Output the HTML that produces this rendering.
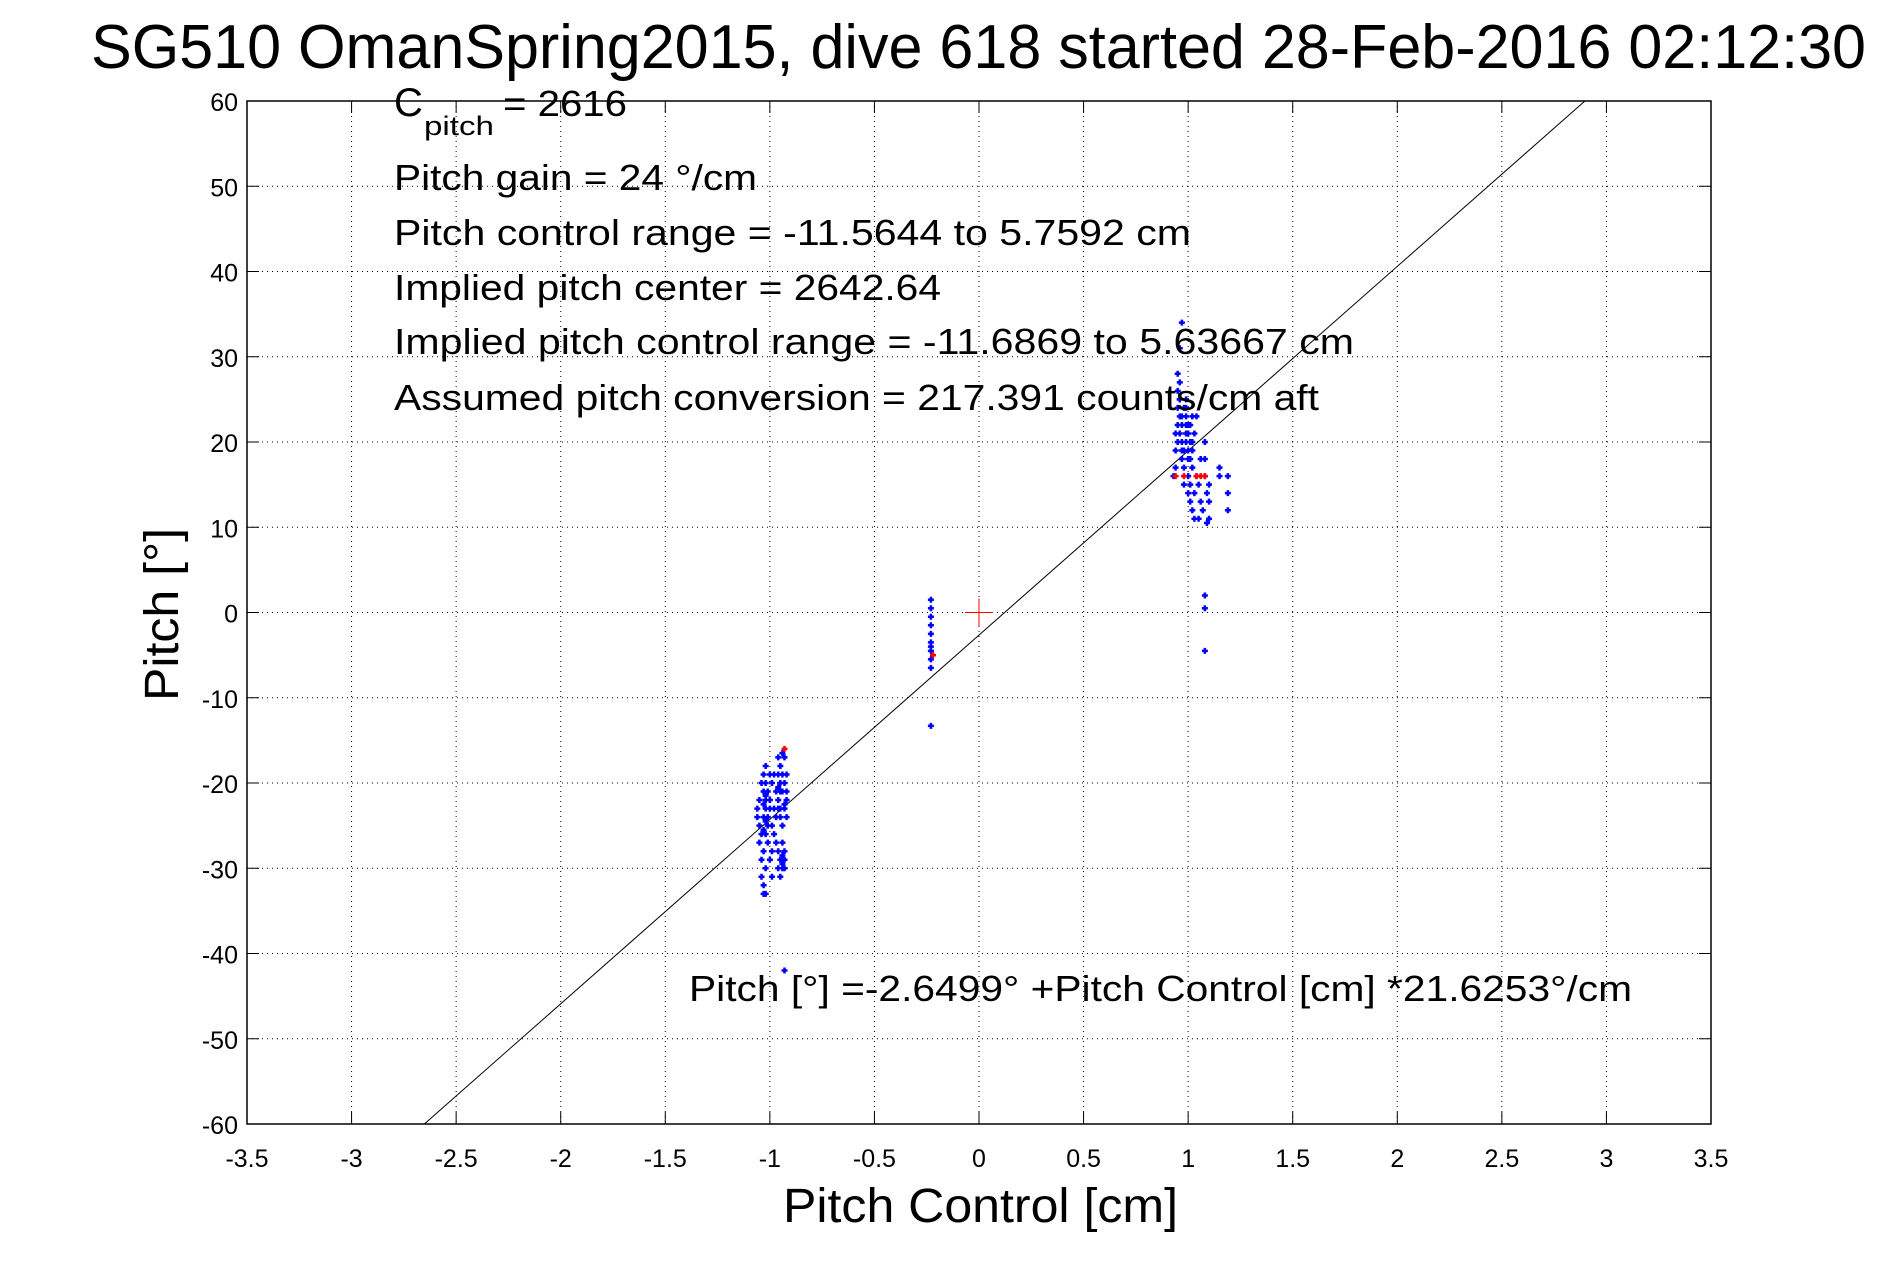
<!DOCTYPE html>
<html><head><meta charset="utf-8"><style>
html,body{margin:0;padding:0;background:#fff;}
svg{display:block;font-family:"Liberation Sans",sans-serif;}
</style></head><body>
<svg id="chart" width="1891" height="1262" viewBox="0 0 1891 1262">
<text x="91" y="68" font-size="62" textLength="1775" lengthAdjust="spacingAndGlyphs">SG510 OmanSpring2015, dive 618 started 28-Feb-2016 02:12:30</text>
<g id="grid"></g>
<g id="ticks"></g>
<line id="fit" stroke="#000" stroke-width="1"/>
<g id="pts"></g>
<rect x="247" y="101" width="1464" height="1023" fill="none" stroke="#000" stroke-width="1.5"/>
<g font-size="36">
<text x="394" y="116" font-size="40">C</text>
<text x="424" y="135" font-size="27" textLength="70" lengthAdjust="spacingAndGlyphs">pitch</text>
<text x="503" y="116" textLength="124" lengthAdjust="spacingAndGlyphs">= 2616</text>
<text x="394" y="190" textLength="363" lengthAdjust="spacingAndGlyphs">Pitch gain = 24 °/cm</text>
<text x="394" y="245" textLength="797" lengthAdjust="spacingAndGlyphs">Pitch control range = -11.5644 to 5.7592 cm</text>
<text x="394" y="300" textLength="547" lengthAdjust="spacingAndGlyphs">Implied pitch center = 2642.64</text>
<text x="394" y="354" textLength="960" lengthAdjust="spacingAndGlyphs">Implied pitch control range = -11.6869 to 5.63667 cm</text>
<text x="394" y="410" textLength="925" lengthAdjust="spacingAndGlyphs">Assumed pitch conversion = 217.391 counts/cm aft</text>
<text x="689" y="1001" textLength="943" lengthAdjust="spacingAndGlyphs">Pitch [°] =-2.6499° +Pitch Control [cm] *21.6253°/cm</text>
</g>
<text x="783" y="1222" font-size="48" textLength="395" lengthAdjust="spacingAndGlyphs">Pitch Control [cm]</text>
<text transform="translate(178,701) rotate(-90)" font-size="48" textLength="173" lengthAdjust="spacingAndGlyphs">Pitch [°]</text>
</svg>
<script>
const xTicks=[-3.5,-3,-2.5,-2,-1.5,-1,-0.5,0,0.5,1,1.5,2,2.5,3,3.5];
const yTicks=[60,50,40,30,20,10,0,-10,-20,-30,-40,-50,-60];
const fitIntercept=-2.6499;
const fitSlope=21.6253;
const blueX=[-1.06,-1.06,-1.05,-1.05,-1.05,-1.04,-1.04,-1.04,-1.04,-1.03,-1.03,-1.03,-1.03,-1.03,-1.03,-1.02,-1.02,-1.02,-1.02,-1.02,-1.02,-1.02,-1.01,-1.01,-1.01,-1.01,-1.0,-1.0,-1.0,-1.0,-0.99,-0.99,-0.99,-0.99,-0.98,-0.98,-0.98,-0.97,-0.97,-0.97,-0.96,-0.96,-0.96,-0.96,-0.96,-0.95,-0.95,-0.95,-0.95,-0.95,-0.94,-0.94,-0.94,-0.94,-0.94,-0.94,-0.93,-0.93,-0.93,-0.93,-0.93,-0.92,-0.92,-0.92,-0.92,-0.93,
-1.03,-1.03,-1.02,-1.02,-0.96,-0.96,-0.95,-0.95,-0.94,-0.94,-0.93,-0.93,
-0.23,-0.23,-0.23,-0.23,-0.23,-0.23,-0.23,-0.23,-0.23,-0.23,-0.23,
0.93,0.94,0.94,0.94,0.95,0.95,0.95,0.95,0.95,0.96,0.96,0.96,0.96,0.97,0.97,0.97,0.97,0.98,0.98,0.98,0.98,0.99,0.99,0.99,0.99,1.0,1.0,1.0,1.0,1.01,1.01,1.01,1.02,1.02,1.02,1.03,1.03,1.03,1.04,1.04,1.05,1.05,1.06,1.06,1.07,1.08,1.08,1.08,1.09,1.09,1.1,1.1,1.1,1.15,1.15,1.19,1.19,1.19,1.08,1.08,1.08,
0.96,0.96,0.97,0.97,0.99,0.99,1.0,1.0,1.01,1.01,1.02,1.02];
const blueY=[-24,-23,-25,-22,-27,-20,-26,-29,-31,-19,-21,-24,-28,-32,-33,-18,-20,-23,-26,-30,-33,-22,-21,-24,-27,-25,-19,-22,-23,-29,-20,-25,-28,-31,-19,-23,-26,-21,-24,-27,-17,-19,-22,-28,-30,-18,-20,-24,-29,-31,-16.5,-19,-21,-25,-27,-30,-17,-20,-23,-28,-30,-19,-21,-22,-24,-42,
-22.5,-25.5,-21.5,-24.5,-20.5,-23,-21,-23,-28.5,-29.5,-29,-22.5,
1.5,0.5,-0.5,-1.5,-2.5,-3.5,-4.5,-5.5,-6.5,-4,-13.3,
16,17,19,21,20,22,24,26,28,23,25,27,31,34,18,20,22,24,15,17,19,21,22,23,25,14,16,18,22,13,15,20,12,17,19,11,14,21,16,23,11,15,13,18,12,20,18,16,10.5,14,11,15,13,17,16,12,14,16,2,0.5,-4.5,
21,25,19,23,20,24,19,21,18,22,20,23];
const redX=[-0.93,-0.22,0.94,0.98,1.04,1.06,1.08];
const redY=[-16,-5,16,16,16,16,16];
const X0=247,X1=1711,Y0=101,Y1=1124;
function sx(v){return X0+(v+3.5)/7*(X1-X0);}
function sy(v){return Y0+(60-v)/120*(Y1-Y0);}
const NS="http://www.w3.org/2000/svg";
const grid=document.getElementById('grid'),ticks=document.getElementById('ticks'),pts=document.getElementById('pts');
function mk(tag,attrs,parent){const e=document.createElementNS(NS,tag);for(const k in attrs)e.setAttribute(k,attrs[k]);parent.appendChild(e);return e;}
xTicks.forEach(v=>{
  const x=sx(v);
  if(v>-3.5&&v<3.5){
    const g=mk('line',{x1:x,x2:x,y1:Y0,y2:Y1,stroke:'#000','stroke-width':1,'stroke-dasharray':'1 4'},grid);
    
    
  }
  const tk=mk('line',{x1:x,x2:x,y1:Y1,y2:Y1-12,stroke:'#000','stroke-width':1},grid);
  
  
  const tk2=mk('line',{x1:x,x2:x,y1:Y0,y2:Y0+12,stroke:'#000','stroke-width':1},grid);
  
  
  const t=mk('text',{x:x,y:1167,'font-size':25,'text-anchor':'middle'},ticks);
  t.textContent=String(v);
  
  
});
yTicks.forEach(v=>{
  const y=sy(v);
  if(v>-60&&v<60){
    const g=mk('line',{x1:X0,x2:X1,y1:y,y2:y,stroke:'#000','stroke-width':1,'stroke-dasharray':'1 4'},grid);
    
    
  }
  const tk=mk('line',{x1:X0,x2:X0+12,y1:y,y2:y,stroke:'#000','stroke-width':1},grid);
  
  
  const tk2=mk('line',{x1:X1,x2:X1-12,y1:y,y2:y,stroke:'#000','stroke-width':1},grid);
  
  
  const t=mk('text',{x:238,y:y+10,'font-size':25,'text-anchor':'end'},ticks);
  t.textContent=String(v);
  
  
});
const xa=(-60-fitIntercept)/fitSlope, xb=(60-fitIntercept)/fitSlope;
const fit=document.getElementById('fit');
fit.setAttribute('x1',sx(xa));fit.setAttribute('y1',sy(-60));
fit.setAttribute('x2',sx(xb));fit.setAttribute('y2',sy(60));
function plus(x,y,col,s,w){
  return mk('path',{d:`M${x-s},${y}H${x+s}M${x},${y-s}V${y+s}`,stroke:col,'stroke-width':w,fill:'none'},pts);
}
blueX.forEach((v,i)=>{
  const p=plus(sx(v),sy(blueY[i]),'#0000ff',3,2.5);
  
  
});
redX.forEach((v,i)=>{
  const p=plus(sx(v),sy(redY[i]),'#ff0000',3,2.5);
  
  
});
const c=plus(sx(0),sy(0),'#ff0000',14,1);


</script>
</body></html>
